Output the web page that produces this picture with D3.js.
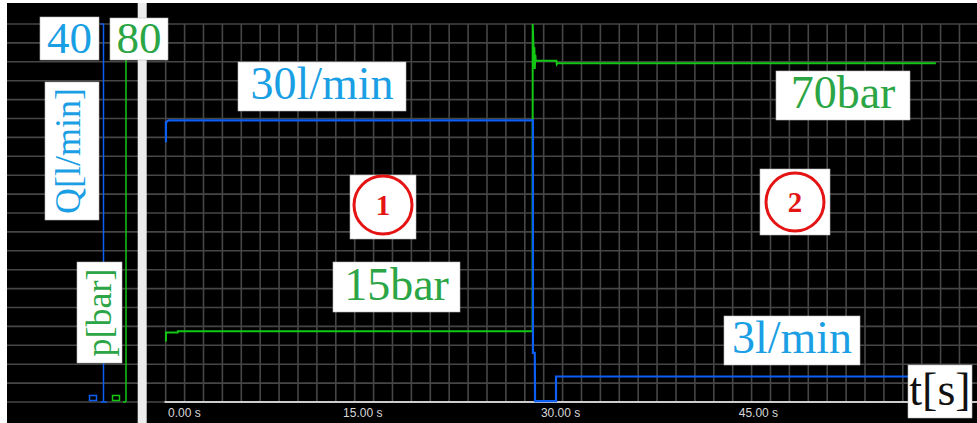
<!DOCTYPE html>
<html><head><meta charset="utf-8">
<script src="https://cdn.jsdelivr.net/npm/d3@7"></script>
<style>html,body{margin:0;padding:0;background:#fff;} svg{display:block}</style>
</head><body><svg id="c" width="977" height="423"></svg>
<script>
// ---- data ----
const timeTicks = [0, 15, 30, 45];
const tickLabels = ["0.00 s", "15.00 s", "30.00 s", "45.00 s"];
const flowTime = [0.11, 0.11, 0.3, 27.94, 27.94, 28.08, 28.1, 29.69, 29.69, 58.5];
const flowQ    = [27.5, 29.6, 29.8, 29.8, 5.2, 5.2, 0.1, 0.1, 2.7, 2.7];
const pressTime = [0.11, 0.11, 1.0, 1.02, 27.92, 27.92, 28.0, 28.05, 28.08, 28.12, 28.15, 29.72, 29.75, 29.8, 58.5];
const pressP    = [12.8, 14.7, 14.7, 15.0, 15.0, 80, 74, 75.1, 70.5, 73.5, 72.2, 72.2, 71.5, 71.7, 71.7];
const qMax = 40, pMax = 80;
const annotations = ["30l/min", "70bar", "15bar", "3l/min"];

// ---- layout ----
const W = 977, H = 423;
const svg = d3.select("#c");
const BLUE_TXT = "#1b9fe4", GREEN_TXT = "#2ba545";
const BLUE_LINE = "#0d5ef2", GREEN_LINE = "#12c812";
const x = d3.scaleLinear().domain([0, 15]).range([164.5, 362.3]);
const yQ = d3.scaleLinear().domain([0, qMax]).range([402, 24]);
const yP = d3.scaleLinear().domain([0, pMax]).range([402, 24]);

svg.append("rect").attr("x", 7).attr("y", 3).attr("width", W - 7).attr("height", H - 3).attr("fill", "#000");

// grid
const gridC = "#464646";
const hVals = d3.range(0, qMax + 1, 2);
const step = yQ(0) - yQ(2);
svg.append("g").selectAll("line").data(hVals).join("line")
  .attr("x1", 7).attr("x2", W).attr("y1", d => yQ(d)).attr("y2", d => yQ(d))
  .attr("stroke", gridC).attr("stroke-width", 1.6);
const vx = d3.range(x(0.09), W, step);
svg.append("g").selectAll("line").data(vx).join("line")
  .attr("x1", d => d).attr("x2", d => d).attr("y1", yQ(qMax)).attr("y2", yQ(0))
  .attr("stroke", gridC).attr("stroke-width", 1.6);

// gray separator bar
svg.append("rect").attr("x", 137.7).attr("y", 3).attr("width", 9).attr("height", H - 3).attr("fill", "#ececec");

// bottom axis
const xAxis = d3.axisBottom(x).tickValues(timeTicks).tickSize(0).tickPadding(0)
  .tickFormat((d, i) => tickLabels[i]);
const gx = svg.append("g").attr("transform", `translate(0,${yQ(0)})`).call(xAxis);
gx.select(".domain").remove();
gx.selectAll("text").attr("fill", "#d8d8d8").attr("font-family", "'Liberation Sans', Arial, sans-serif")
  .attr("font-size", 12).attr("y", 15).attr("dy", 0)
  .attr("text-anchor", (d, i) => i === 0 ? "start" : "middle").attr("dx", (d, i) => i === 0 ? 3 : 0);
svg.append("line").attr("x1", x(0)).attr("x2", W).attr("y1", yQ(0)).attr("y2", yQ(0))
  .attr("stroke", "#cccccc").attr("stroke-width", 2);

// left axes
svg.append("line").attr("x1", 103.5).attr("x2", 103.5).attr("y1", yQ(qMax)).attr("y2", yQ(0)).attr("stroke", BLUE_LINE).attr("stroke-width", 1.5);
svg.append("line").attr("x1", 100.5).attr("x2", 103.5).attr("y1", yQ(qMax)).attr("y2", yQ(qMax)).attr("stroke", BLUE_LINE).attr("stroke-width", 1.5);
svg.append("line").attr("x1", 100.5).attr("x2", 107).attr("y1", yQ(0)).attr("y2", yQ(0)).attr("stroke", BLUE_LINE).attr("stroke-width", 1.5);
svg.append("line").attr("x1", 126).attr("x2", 126).attr("y1", yP(pMax)).attr("y2", yP(0)).attr("stroke", GREEN_LINE).attr("stroke-width", 1.5);
svg.append("line").attr("x1", 123).attr("x2", 126).attr("y1", yP(0)).attr("y2", yP(0)).attr("stroke", GREEN_LINE).attr("stroke-width", 1.5);
svg.append("rect").attr("x", 89.5).attr("y", 395.5).attr("width", 7).attr("height", 5).attr("fill", "none").attr("stroke", BLUE_LINE).attr("stroke-width", 1.5);
svg.append("rect").attr("x", 112.5).attr("y", 395.5).attr("width", 7).attr("height", 5).attr("fill", "none").attr("stroke", GREEN_LINE).attr("stroke-width", 1.5);

// series
const flow = flowTime.map((t, i) => [t, flowQ[i]]);
const press = pressTime.map((t, i) => [t, pressP[i]]);
svg.append("path").datum(press).attr("fill", "none").attr("stroke", GREEN_LINE).attr("stroke-width", 2)
  .attr("d", d3.line().x(d => x(d[0])).y(d => yP(d[1])));
svg.append("path").datum(flow).attr("fill", "none").attr("stroke", BLUE_LINE).attr("stroke-width", 2.2)
  .attr("d", d3.line().x(d => x(d[0])).y(d => yQ(d[1])));

// labels
const serif = "'Liberation Serif', 'Times New Roman', 'DejaVu Serif', serif";
function box(bx, by, bw, bh) {
  svg.append("rect").attr("x", bx).attr("y", by).attr("width", bw).attr("height", bh)
    .attr("fill", "#fff").attr("stroke", "#bbb").attr("stroke-width", 0.6);
}
function label(txt, bx, by, bw, bh, color, size, base) {
  box(bx, by, bw, bh);
  svg.append("text").attr("x", bx + bw / 2).attr("y", by + base).attr("text-anchor", "middle")
    .style("font-family", serif).attr("font-size", size).attr("fill", color).text(txt);
}
function vlabel(txt, bx, by, bw, bh, color, size, baseX) {
  box(bx, by, bw, bh);
  svg.append("text").attr("transform", `translate(${baseX},${by + bh / 2}) rotate(-90)`).attr("text-anchor", "middle")
    .style("font-family", serif).attr("font-size", size).attr("fill", color).text(txt);
}
label(String(qMax), 40, 17, 59, 43, BLUE_TXT, 45, 36);
label(String(pMax), 110, 18, 58, 42, GREEN_TXT, 45, 35);
vlabel("Q[l/min]", 45, 82, 54, 138, BLUE_TXT, 36, 80);
vlabel("p[bar]", 77, 262, 45, 101, GREEN_TXT, 36, 111);
label(annotations[0], 238, 62, 168, 49, BLUE_TXT, 46, 37);
label(annotations[1], 776, 71, 134, 49, GREEN_TXT, 46, 37);
label(annotations[2], 333, 262, 127, 50, GREEN_TXT, 46, 38);
label(annotations[3], 724, 316, 136, 49, BLUE_TXT, 46, 37);
label("t[s]", 908, 365, 64, 53, "#111", 46, 40);

function circ(n, bx, by, bw, bh, cx, cy) {
  box(bx, by, bw, bh);
  svg.append("circle").attr("cx", cx).attr("cy", cy).attr("r", 29).attr("fill", "none").attr("stroke", "#e51414").attr("stroke-width", 3);
  svg.append("text").attr("x", cx).attr("y", cy + 10).attr("text-anchor", "middle").style("font-family", serif)
    .attr("font-weight", "bold").attr("font-size", 29).attr("fill", "#e51414").text(n);
}
circ("1", 350, 175, 66, 64, 383, 205);
circ("2", 760, 169, 70, 66, 795, 202);
</script></body></html>
